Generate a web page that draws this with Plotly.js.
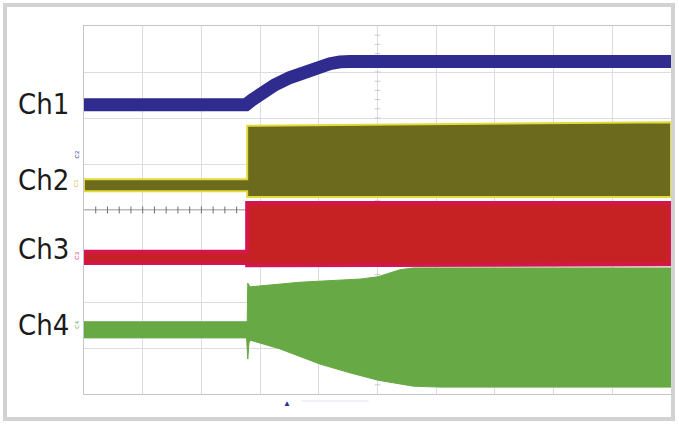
<!DOCTYPE html>
<html>
<head>
<meta charset="utf-8">
<script src="https://cdn.plot.ly/plotly-3.0.1.min.js"></script>
<style>html,body{margin:0;padding:0;background:#fff;}#chart{width:679px;height:425px;}</style>
</head>
<body>
<div id="chart"></div>
<script>
// Units: x = horizontal scope divisions (0..10), y = vertical divisions (0..8)
const channelNames = ["Ch1", "Ch2", "Ch3", "Ch4"];
const channelLabelY = [6.31, 4.66, 3.16, 1.51];

const ch1X = [0, 2.76, 2.86, 3.00, 3.25, 3.51, 3.77, 3.99, 4.19, 4.36, 4.53, 10];
const ch1Y = [6.29, 6.29, 6.39, 6.52, 6.72, 6.88, 7.02, 7.11, 7.18, 7.22, 7.23, 7.23];

const ch2TopX = [0, 2.78, 2.78, 6, 10];
const ch2TopY = [4.67, 4.67, 5.83, 5.87, 5.91];
const ch2BotX = [0, 2.78, 2.78, 10];
const ch2BotY = [4.41, 4.41, 4.28, 4.28];

const ch3TopX = [0, 2.78, 2.78, 10];
const ch3TopY = [3.09, 3.09, 4.15, 4.15];
const ch3BotX = [0, 2.78, 2.78, 10];
const ch3BotY = [2.85, 2.85, 2.80, 2.82];

const ch4TopX = [0, 2.78, 2.79, 2.83, 3.68, 4.72, 5.01, 5.38, 5.61, 10];
const ch4TopY = [1.57, 1.57, 2.41, 2.33, 2.43, 2.50, 2.55, 2.70, 2.74, 2.74];
const ch4BotX = [0, 2.77, 2.79, 2.81, 2.83, 3.34, 4.02, 4.53, 5.01, 5.61, 6.07, 10];
const ch4BotY = [1.22, 1.22, 0.76, 1.10, 1.17, 0.98, 0.65, 0.46, 0.30, 0.17, 0.15, 0.15];

const triggerX = 3.46;

function band(tx, ty, bx, by) {
  return {
    x: tx.concat(bx.slice().reverse(), [tx[0]]),
    y: ty.concat(by.slice().reverse(), [ty[0]])
  };
}

const b2 = band(ch2TopX, ch2TopY, ch2BotX, ch2BotY);
const b3 = band(ch3TopX, ch3TopY, ch3BotX, ch3BotY);
const b4 = band(ch4TopX, ch4TopY, ch4BotX, ch4BotY);

// graticule minor ticks on centre lines (decoration)
const tickHX = [], tickHY = [], tickVX = [], tickVY = [];
for (let i = 1; i < 50; i++) { tickHX.push(i * 0.2); tickHY.push(4); }
for (let i = 1; i < 40; i++) { tickVX.push(5); tickVY.push(i * 0.2); }

const traces = [
  {x: tickHX, y: tickHY, mode: 'markers', hoverinfo: 'skip',
   marker: {symbol: 'line-ns', size: 5, line: {width: 1, color: '#707070'}}},
  {x: tickVX, y: tickVY, mode: 'markers', hoverinfo: 'skip',
   marker: {symbol: 'line-ew', size: 4, line: {width: 1, color: '#c8c8d0'}}},
  {x: ch1X, y: ch1Y, mode: 'lines', line: {color: '#2f2b8f', width: 13}, hoverinfo: 'skip'},
  {x: b2.x, y: b2.y, mode: 'lines', fill: 'toself', fillcolor: '#6b6a1d', line: {color: '#e2da3a', width: 2}, hoverinfo: 'skip'},
  {x: b3.x, y: b3.y, mode: 'lines', fill: 'toself', fillcolor: '#c62224', line: {color: '#d3174c', width: 4}, hoverinfo: 'skip'},
  {x: b4.x, y: b4.y, mode: 'lines', fill: 'toself', fillcolor: '#67a944', line: {color: '#67a944', width: 1}, hoverinfo: 'skip'}
];

const annotations = channelNames.map((n, i) => ({
  text: n, xref: 'paper', yref: 'y', x: -0.116, y: channelLabelY[i],
  xanchor: 'left', yanchor: 'middle', showarrow: false,
  font: {family: '"DejaVu Sans Condensed", "Liberation Sans Narrow", Arial, sans-serif', size: 29, color: '#1b1b1b'}
}));
const markerText = ['C2', 'C1', 'C3', 'C4'];
const markerY = [5.2, 4.58, 3.0, 1.5];
const markerCol = ['#3a3a9a', '#c8c030', '#d0306a', '#6aab48'];
markerText.forEach((t, i) => annotations.push({
  text: t, xref: 'paper', yref: 'y', x: -0.004, y: markerY[i], xanchor: 'right', yanchor: 'middle',
  showarrow: false, textangle: -90, font: {family: 'Arial', size: 6, color: markerCol[i]}
}));
annotations.push({text: '▲', xref: 'x', yref: 'paper', x: triggerX, y: 0, yanchor: 'top', yshift: -1,
  showarrow: false, font: {size: 8, color: '#2f2b8f'}});

const layout = {
  width: 679, height: 425,
  margin: {l: 84, r: 8, t: 26, b: 31, pad: 0},
  paper_bgcolor: '#ffffff', plot_bgcolor: '#ffffff',
  showlegend: false,
  xaxis: {range: [0, 10], dtick: 1, showticklabels: false, ticks: '', zeroline: false,
          showgrid: true, gridcolor: '#dcdce2', gridwidth: 1,
          showline: true, mirror: true, linecolor: '#c4c4c8', linewidth: 1, fixedrange: true},
  yaxis: {range: [0, 8], dtick: 1, showticklabels: false, ticks: '', zeroline: false,
          showgrid: true, gridcolor: '#dcdce2', gridwidth: 1,
          showline: true, mirror: true, linecolor: '#c4c4c8', linewidth: 1, fixedrange: true},
  shapes: [
    {type: 'line', xref: 'x', yref: 'y', x0: 0, x1: 10, y0: 4, y1: 4, line: {color: '#707070', width: 1}, layer: 'below'},
    {type: 'line', xref: 'x', yref: 'paper', x0: 3.7, x1: 4.85, y0: -0.019, y1: -0.019, line: {color: '#e4e4ec', width: 1}},
    {type: 'rect', xref: 'paper', yref: 'paper',
     x0: (5 - 84) / 587, x1: (673 - 84) / 587, y0: (394 - 419) / 368, y1: (394 - 5) / 368,
     line: {color: '#d2d2d2', width: 4}}
  ],
  annotations: annotations
};

Plotly.newPlot('chart', traces, layout, {staticPlot: true, displayModeBar: false});
</script>
</body>
</html>
